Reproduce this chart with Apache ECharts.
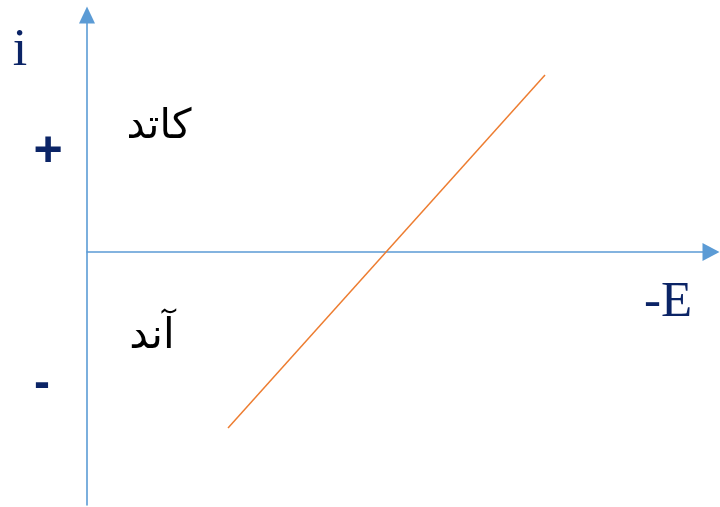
<!DOCTYPE html>
<html>
<head>
<meta charset="utf-8">
<script src="https://cdn.jsdelivr.net/npm/echarts@6/dist/echarts.min.js"></script>
<style>
  html, body { margin: 0; padding: 0; background: #ffffff; }
  #chart { width: 720px; height: 507px; }
</style>
</head>
<body>
<div id="chart"></div>
<script>
// Polarisation line: current i against potential -E
const potential = [2.26, 7.34];
const current = [-3.52, 3.54];

// Axis ranges (i = 0 crosses the vertical axis near the middle)
const xRange = [0, 10];
const yRange = [-5.06, 4.74];

// Annotations
const axisNames = { y: 'i', x: '-E' };
const signLabels = { plus: '+', minus: '-' };
const regionLabels = { cathode: 'کاتد', anode: 'آند' };

const chart = echarts.init(document.getElementById('chart'), null, { renderer: 'canvas' });

const axisBlue = '#5B9BD5';
const navy = '#0B2466';

const axisLine = (size) => ({
  show: true,
  onZero: true,
  symbol: ['none', 'triangle'],
  symbolSize: size,
  lineStyle: { color: axisBlue, width: 1.6 }
});

chart.setOption({
  animation: false,
  backgroundColor: '#ffffff',
  grid: { left: 87, right: 9, top: 15, bottom: 2 },
  xAxis: {
    type: 'value', min: xRange[0], max: xRange[1],
    axisLine: axisLine([18, 17]),
    axisTick: { show: false }, axisLabel: { show: false }, splitLine: { show: false }
  },
  yAxis: {
    type: 'value', min: yRange[0], max: yRange[1],
    axisLine: axisLine([16, 17]),
    axisTick: { show: false }, axisLabel: { show: false }, splitLine: { show: false }
  },
  series: [{
    type: 'line',
    data: potential.map((e, k) => [e, current[k]]),
    symbol: 'none',
    lineStyle: { color: '#ED7D31', width: 1.5 }
  }],
  graphic: [
    { type: 'text', x: 20, y: 77, style: { text: axisNames.y, font: '52px "Liberation Serif", serif', fill: navy, align: 'center', verticalAlign: 'bottom' } },
    { type: 'text', x: 668, y: 328, style: { text: axisNames.x, font: '51px "Liberation Serif", serif', fill: navy, align: 'center', verticalAlign: 'bottom' } },
    { type: 'text', x: 48, y: 152, style: { text: signLabels.plus, font: 'bold 50px "Liberation Sans", sans-serif', fill: navy, align: 'center', verticalAlign: 'middle' } },
    { type: 'text', x: 42, y: 385, style: { text: signLabels.minus, font: 'bold 48px "Liberation Sans", sans-serif', fill: navy, align: 'center', verticalAlign: 'middle' } },
    { type: 'text', x: 159, y: 127, style: { text: regionLabels.cathode, font: '41px "DejaVu Sans", sans-serif', fill: '#000000', align: 'center', verticalAlign: 'middle' } },
    { type: 'text', x: 152, y: 337, style: { text: regionLabels.anode, font: '42px "DejaVu Sans", sans-serif', fill: '#000000', align: 'center', verticalAlign: 'middle' } }
  ]
});
</script>
</body>
</html>
